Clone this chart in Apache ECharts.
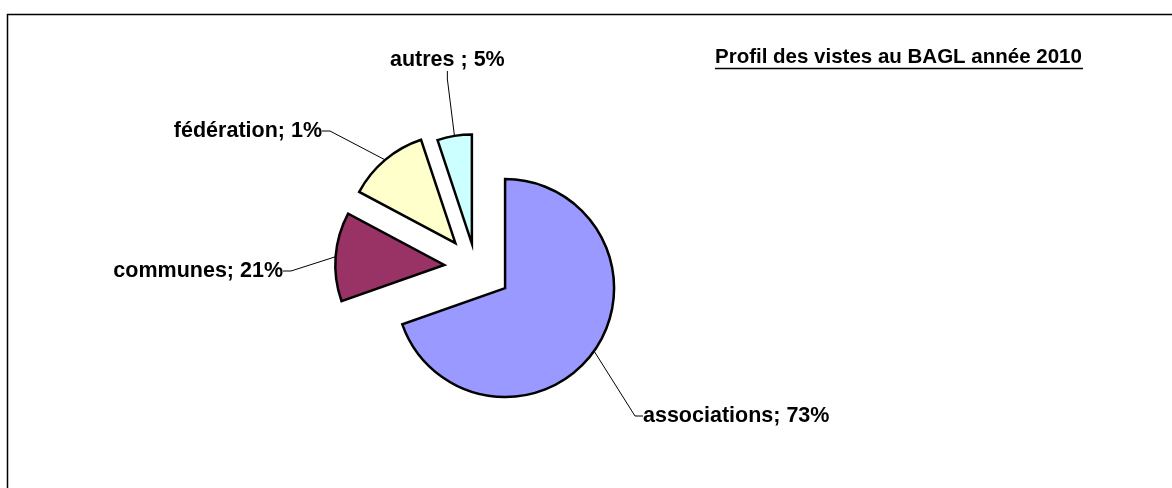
<!DOCTYPE html>
<html>
<head>
<meta charset="utf-8">
<title>Profil des visites au BAGL 2010</title>
<script src="https://cdn.jsdelivr.net/npm/echarts@6/dist/echarts.min.js"></script>
<style>
  html, body { margin: 0; padding: 0; background: #fff; }
  #chart { width: 1172px; height: 488px; }
</style>
</head>
<body>
<div id="chart"></div>
<script>
// parts de la tarte et textes affichés
const categories = ['associations', 'communes', 'fédération', 'autres'];
const sliceValues = [69.6, 13.2, 12.1, 5.1];
const labelTexts = ['associations; 73%', 'communes; 21%', 'fédération; 1%', 'autres ; 5%'];
const colors = ['#9999FF', '#993366', '#FFFFCC', '#CCFFFF'];

// éclatement de chaque part (px) et position des étiquettes
const explode = [36, 31.5, 31.5, 24];
const labelPos = [
  { x: 643, y: 416, align: 'left' },
  { x: 283, y: 271, align: 'right' },
  { x: 322, y: 131, align: 'right' },
  { x: 390, y: 60, align: 'left' }
];
const pieCenter = [475.7, 267.3];
const font = 'Liberation Sans, Arial, sans-serif';

const chart = echarts.init(document.getElementById('chart'));

// angle médian de chaque part (départ à midi, sens horaire)
const total = sliceValues.reduce((a, b) => a + b, 0);
let acc = 0;
const midAngles = sliceValues.map(v => {
  const mid = (acc + v / 2) / total * Math.PI * 2;
  acc += v;
  return mid;
});

// une série par part éclatée, les autres parts restent invisibles
const series = categories.map((cat, k) => ({
  type: 'pie',
  silent: true,
  center: [
    pieCenter[0] + explode[k] * Math.sin(midAngles[k]),
    pieCenter[1] - explode[k] * Math.cos(midAngles[k])
  ],
  radius: 109,
  startAngle: 90,
  clockwise: true,
  avoidLabelOverlap: false,
  animation: false,
  data: categories.map((name, i) => {
    const show = i === k;
    return {
      name: name,
      value: sliceValues[i],
      itemStyle: show
        ? { color: colors[i], borderColor: '#000', borderWidth: 2.5, borderJoin: 'miter' }
        : { color: 'transparent', borderWidth: 0 },
      label: { show: show },
      labelLine: { show: show }
    };
  }),
  label: {
    position: 'outside',
    formatter: p => labelTexts[p.dataIndex],
    color: '#000',
    fontFamily: font,
    fontWeight: 'bold',
    fontSize: 21.5
  },
  labelLine: {
    length: 10,
    length2: 8,
    smooth: false,
    lineStyle: { color: '#000', width: 1 }
  },
  labelLayout: function (params) {
    const p = labelPos[params.dataIndex];
    return { x: p.x, y: p.y, align: p.align, verticalAlign: 'middle' };
  }
}));

const option = {
  backgroundColor: '#fff',
  title: {
    text: 'Profil des vistes au BAGL année 2010',
    left: 715,
    top: 47,
    padding: 0,
    textStyle: {
      color: '#000',
      fontFamily: font,
      fontWeight: 'bold',
      fontSize: 20.5
    }
  },
  graphic: [
    {
      type: 'rect',
      silent: true,
      shape: { x: 7.5, y: 14.5, width: 1300, height: 600 },
      style: { fill: 'none', stroke: '#000', lineWidth: 1.5 }
    },
    {
      type: 'line',
      silent: true,
      shape: { x1: 715, y1: 68.5, x2: 1083, y2: 68.5 },
      style: { stroke: '#000', lineWidth: 1.5 }
    }
  ],
  series: series
};

chart.setOption(option);
</script>
</body>
</html>
